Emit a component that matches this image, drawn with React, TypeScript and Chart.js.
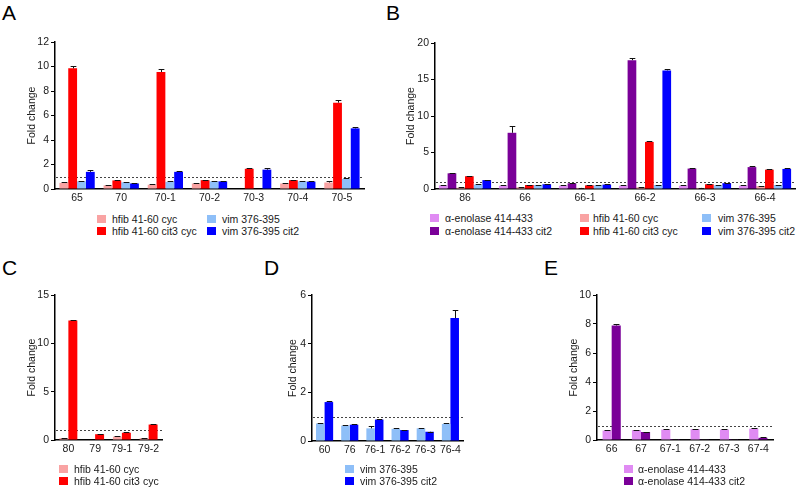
import React, { useEffect, useRef } from "react";
import { Chart, registerables } from "chart.js";
Chart.register(...registerables);

const FONT = "'Liberation Sans', Arial, Helvetica, sans-serif";

const C_PINK = "#F9A3A3";
const C_RED = "#FF0000";
const C_LBLUE = "#8EBFF8";
const C_BLUE = "#0000FF";
const C_LVIOLET = "#E08BF3";
const C_PURPLE = "#7A0098";

const N_ENO = "\u03B1-enolase 414-433";
const N_ENO2 = "\u03B1-enolase 414-433 cit2";
const N_HCYC = "hfib 41-60 cyc";
const N_HCIT = "hfib 41-60 cit3 cyc";
const N_VIM = "vim 376-395";
const N_VIM2 = "vim 376-395 cit2";

// ---------- Panel A ----------
const catsA = ["65", "70", "70-1", "70-2", "70-3", "70-4", "70-5"];
const hfibCycA = [0.5, 0.3, 0.35, 0.45, null, 0.45, 0.53];
const hfibCycErrA = [0.05, 0.04, 0.04, 0.04, 0, 0.04, 0.12];
const hfibCit3A = [9.85, 0.7, 9.55, 0.72, 1.65, 0.72, 7.05];
const hfibCit3ErrA = [0.2, 0.04, 0.22, 0.04, 0.05, 0.04, 0.2];
const vimA = [0.62, 0.55, 0.58, 0.62, null, 0.62, 0.82];
const vimErrA = [0.04, 0.02, 0.06, 0.03, 0, 0.04, 0.04];
const vimCit2A = [1.4, 0.45, 1.4, 0.62, 1.58, 0.6, 4.95];
const vimCit2ErrA = [0.18, 0.03, 0.05, 0.03, 0.15, 0.03, 0.1];

// ---------- Panel B ----------
const catsB = ["86", "66", "66-1", "66-2", "66-3", "66-4"];
const enoB = [0.5, 0.45, 0.45, 0.45, 0.45, 0.45];
const enoErrB = [0.04, 0.04, 0.04, 0.04, 0.04, 0.04];
const eno2B = [2.15, 7.7, 0.78, 17.65, 2.8, 3.0];
const eno2ErrB = [0.06, 0.9, 0.05, 0.3, 0.08, 0.2];
const hfibCycB = [0.18, 0.25, 0.15, 0.25, 0.15, 0.4];
const hfibCycErrB = [0.03, 0.03, 0.03, 0.03, 0.03, 0.04];
const hfibCit3B = [1.75, 0.55, 0.5, 6.45, 0.65, 2.65];
const hfibCit3ErrB = [0.08, 0.04, 0.04, 0.15, 0.04, 0.08];
const vimB = [0.6, 0.55, 0.5, 0.55, 0.5, 0.55];
const vimErrB = [0.04, 0.04, 0.04, 0.04, 0.04, 0.04];
const vimCit2B = [1.22, 0.65, 0.6, 16.25, 0.8, 2.75];
const vimCit2ErrB = [0.04, 0.04, 0.04, 0.25, 0.04, 0.15];

// ---------- Panel C ----------
const catsC = ["80", "79", "79-1", "79-2"];
const hfibCycC = [0.2, null, 0.35, 0.2];
const hfibCycErrC = [0.05, 0, 0.05, 0.02];
const hfibCit3C = [12.35, 0.6, 0.75, 1.6];
const hfibCit3ErrC = [0.08, 0.05, 0.05, 0.06];

// ---------- Panel D ----------
const catsD = ["60", "76", "76-1", "76-2", "76-3", "76-4"];
const vimD = [0.72, 0.63, 0.52, 0.5, 0.52, 0.7];
const vimErrD = [0.03, 0.02, 0.08, 0.02, 0.03, 0.03];
const vimCit2D = [1.6, 0.67, 0.88, 0.45, 0.38, 5.05];
const vimCit2ErrD = [0.04, 0.01, 0.02, 0.01, 0.01, 0.35];

// ---------- Panel E ----------
const catsE = ["66", "67", "67-1", "67-2", "67-3", "67-4"];
const enoE = [0.65, 0.68, 0.72, 0.75, 0.72, 0.78];
const enoErrE = [0.04, 0.01, 0.03, 0.03, 0.03, 0.04];
const eno2E = [7.9, 0.55, 0.07, 0.05, 0.06, 0.15];
const eno2ErrE = [0.08, 0.03, 0.02, 0.02, 0.02, 0.03];

const refLinePlugin = {
  id: "refline",
  beforeDatasetsDraw(chart: any) {
    const ctx = chart.ctx;
    const y = chart.scales.y;
    const a = chart.chartArea;
    const py = Math.round(y.getPixelForValue(1)) + 0.5;
    ctx.save();
    ctx.strokeStyle = "#444";
    ctx.lineWidth = 1;
    ctx.setLineDash([2, 2]);
    ctx.beginPath();
    ctx.moveTo(a.left + 1, py);
    ctx.lineTo(a.right, py);
    ctx.stroke();
    ctx.restore();
  },
};

const errPlugin = {
  id: "errbars",
  afterDatasetsDraw(chart: any) {
    const ctx = chart.ctx;
    const y = chart.scales.y;
    ctx.save();
    ctx.strokeStyle = "#111";
    ctx.lineWidth = 1;
    chart.data.datasets.forEach((ds: any, i: number) => {
      const meta = chart.getDatasetMeta(i);
      const errs = ds.errors;
      if (!errs) return;
      meta.data.forEach((el: any, j: number) => {
        const v = ds.data[j];
        if (v == null) return;
        const e = errs[j] || 0;
        const top = Math.round(y.getPixelForValue(v + e)) + 0.5;
        const x = Math.round(el.x) + 0.5;
        const w = Math.min(el.width * 0.65, 6);
        ctx.beginPath();
        ctx.moveTo(x, el.y);
        ctx.lineTo(x, top);
        ctx.moveTo(x - w / 2, top);
        ctx.lineTo(x + w / 2, top);
        ctx.stroke();
      });
    });
    ctx.restore();
  },
};

type DS = { label: string; data: (number | null)[]; err: number[]; color: string };

function BarPanel(props: {
  x: number; y: number; w: number; h: number;
  yW: number; xH: number; padTop: number; padRight: number;
  labels: string[]; datasets: DS[]; yMax: number; yStep: number;
  catPct: number; titlePad: number;
}) {
  const ref = useRef<HTMLCanvasElement>(null);
  useEffect(() => {
    const p = props;
    const chart = new Chart(ref.current as HTMLCanvasElement, {
      type: "bar",
      data: {
        labels: p.labels,
        datasets: p.datasets.map((d) => ({
          label: d.label,
          data: d.data,
          errors: d.err,
          backgroundColor: d.color,
          borderWidth: 0,
          barPercentage: 1,
          categoryPercentage: p.catPct,
        })) as any,
      },
      options: {
        animation: false,
        responsive: false,
        devicePixelRatio: 1,
        layout: { padding: { top: p.padTop, right: p.padRight, left: 0, bottom: 0 } },
        plugins: { legend: { display: false }, tooltip: { enabled: false } },
        scales: {
          x: {
            type: "category",
            offset: true,
            grid: { display: true, drawOnChartArea: false, drawTicks: false, tickLength: 0, color: "rgba(0,0,0,0)" },
            border: { display: true, color: "#000", width: 1.5 },
            ticks: { color: "#1a1a1a", font: { family: FONT, size: 10.5 }, padding: 3, maxRotation: 0, autoSkip: false },
            afterFit: (s: any) => { s.height = p.xH; s.paddingLeft = 0; s.paddingRight = 0; },
          },
          y: {
            min: 0,
            max: p.yMax,
            grid: { display: true, drawOnChartArea: false, drawTicks: true, tickLength: 4, color: "#000", lineWidth: 1 },
            border: { display: true, color: "#000", width: 1.5 },
            ticks: { stepSize: p.yStep, color: "#1a1a1a", font: { family: FONT, size: 10.5 }, padding: 2 },
            title: {
              display: true,
              text: "Fold change",
              color: "#1a1a1a",
              font: { family: FONT, size: 10.5 },
              padding: { top: p.titlePad, bottom: 0 },
            },
            afterFit: (s: any) => { s.width = p.yW; s.paddingTop = 0; s.paddingBottom = 0; },
          },
        },
      } as any,
      plugins: [refLinePlugin, errPlugin],
    });
    return () => chart.destroy();
  }, []);
  return (
    <canvas
      ref={ref}
      width={props.w}
      height={props.h}
      style={{ position: "absolute", left: props.x, top: props.y, width: props.w, height: props.h }}
    />
  );
}

function LegendItem({ x, y, tx, color, text }: { x: number; y: number; tx: number; color: string; text: string }) {
  return (
    <>
      <div style={{ position: "absolute", left: x, top: y - 4, width: 9, height: 8, background: color }} />
      <div
        style={{
          position: "absolute", left: tx, top: y - 7, height: 14, lineHeight: "14px",
          fontFamily: FONT, fontSize: 10.5, color: "#1a1a1a", whiteSpace: "nowrap",
        }}
      >
        {text}
      </div>
    </>
  );
}

function Letter({ x, y, t }: { x: number; y: number; t: string }) {
  return (
    <div style={{ position: "absolute", left: x, top: y, fontFamily: FONT, fontSize: 21, lineHeight: "21px", color: "#000" }}>
      {t}
    </div>
  );
}

export default function App() {
  const dsA: DS[] = [
    { label: N_HCYC, data: hfibCycA, err: hfibCycErrA, color: C_PINK },
    { label: N_HCIT, data: hfibCit3A, err: hfibCit3ErrA, color: C_RED },
    { label: N_VIM, data: vimA, err: vimErrA, color: C_LBLUE },
    { label: N_VIM2, data: vimCit2A, err: vimCit2ErrA, color: C_BLUE },
  ];
  const dsB: DS[] = [
    { label: N_ENO, data: enoB, err: enoErrB, color: C_LVIOLET },
    { label: N_ENO2, data: eno2B, err: eno2ErrB, color: C_PURPLE },
    { label: N_HCYC, data: hfibCycB, err: hfibCycErrB, color: C_PINK },
    { label: N_HCIT, data: hfibCit3B, err: hfibCit3ErrB, color: C_RED },
    { label: N_VIM, data: vimB, err: vimErrB, color: C_LBLUE },
    { label: N_VIM2, data: vimCit2B, err: vimCit2ErrB, color: C_BLUE },
  ];
  const dsC: DS[] = [
    { label: N_HCYC, data: hfibCycC, err: hfibCycErrC, color: C_PINK },
    { label: N_HCIT, data: hfibCit3C, err: hfibCit3ErrC, color: C_RED },
  ];
  const dsD: DS[] = [
    { label: N_VIM, data: vimD, err: vimErrD, color: C_LBLUE },
    { label: N_VIM2, data: vimCit2D, err: vimCit2ErrD, color: C_BLUE },
  ];
  const dsE: DS[] = [
    { label: N_ENO, data: enoE, err: enoErrE, color: C_LVIOLET },
    { label: N_ENO2, data: eno2E, err: eno2ErrE, color: C_PURPLE },
  ];

  return (
    <div style={{ position: "absolute", left: 0, top: 0, width: 800, height: 488, background: "#fff", overflow: "hidden" }}>
      <Letter x={2} y={2} t="A" />
      <Letter x={386} y={2} t="B" />
      <Letter x={2} y={257} t="C" />
      <Letter x={264} y={257} t="D" />
      <Letter x={544} y={257} t="E" />

      <BarPanel x={23} y={32} w={347} h={179} yW={32} xH={22} padTop={10} padRight={6}
        labels={catsA} datasets={dsA} yMax={12} yStep={2} catPct={0.8} titlePad={3} />
      <BarPanel x={403} y={33} w={396} h={178} yW={32} xH={22} padTop={10} padRight={4}
        labels={catsB} datasets={dsB} yMax={20} yStep={5} catPct={0.87} titlePad={2} />
      <BarPanel x={23} y={285} w={147} h={177} yW={32} xH={22} padTop={10} padRight={8}
        labels={catsC} datasets={dsC} yMax={15} yStep={5} catPct={0.67} titlePad={3} />
      <BarPanel x={280} y={285} w={191} h={178} yW={32} xH={22} padTop={10} padRight={8}
        labels={catsD} datasets={dsD} yMax={6} yStep={2} catPct={0.68} titlePad={7} />
      <BarPanel x={565} y={285} w={216} h={177} yW={32} xH={22} padTop={10} padRight={8}
        labels={catsE} datasets={dsE} yMax={10} yStep={2} catPct={0.62} titlePad={3} />

      {/* Legend A */}
      <LegendItem x={97} y={219} tx={112} color={C_PINK} text={N_HCYC} />
      <LegendItem x={97} y={231} tx={112} color={C_RED} text={N_HCIT} />
      <LegendItem x={207} y={219} tx={222} color={C_LBLUE} text={N_VIM} />
      <LegendItem x={207} y={231} tx={222} color={C_BLUE} text={N_VIM2} />

      {/* Legend B */}
      <LegendItem x={430} y={218} tx={445} color={C_LVIOLET} text={N_ENO} />
      <LegendItem x={430} y={231} tx={445} color={C_PURPLE} text={N_ENO2} />
      <LegendItem x={580} y={218} tx={593} color={C_PINK} text={N_HCYC} />
      <LegendItem x={580} y={231} tx={593} color={C_RED} text={N_HCIT} />
      <LegendItem x={702} y={218} tx={718} color={C_LBLUE} text={N_VIM} />
      <LegendItem x={702} y={231} tx={718} color={C_BLUE} text={N_VIM2} />

      {/* Legend C */}
      <LegendItem x={59} y={469} tx={74} color={C_PINK} text={N_HCYC} />
      <LegendItem x={59} y={481} tx={74} color={C_RED} text={N_HCIT} />

      {/* Legend D */}
      <LegendItem x={345} y={469} tx={360} color={C_LBLUE} text={N_VIM} />
      <LegendItem x={345} y={481} tx={360} color={C_BLUE} text={N_VIM2} />

      {/* Legend E */}
      <LegendItem x={624} y={469} tx={638} color={C_LVIOLET} text={N_ENO} />
      <LegendItem x={624} y={481} tx={638} color={C_PURPLE} text={N_ENO2} />
    </div>
  );
}
